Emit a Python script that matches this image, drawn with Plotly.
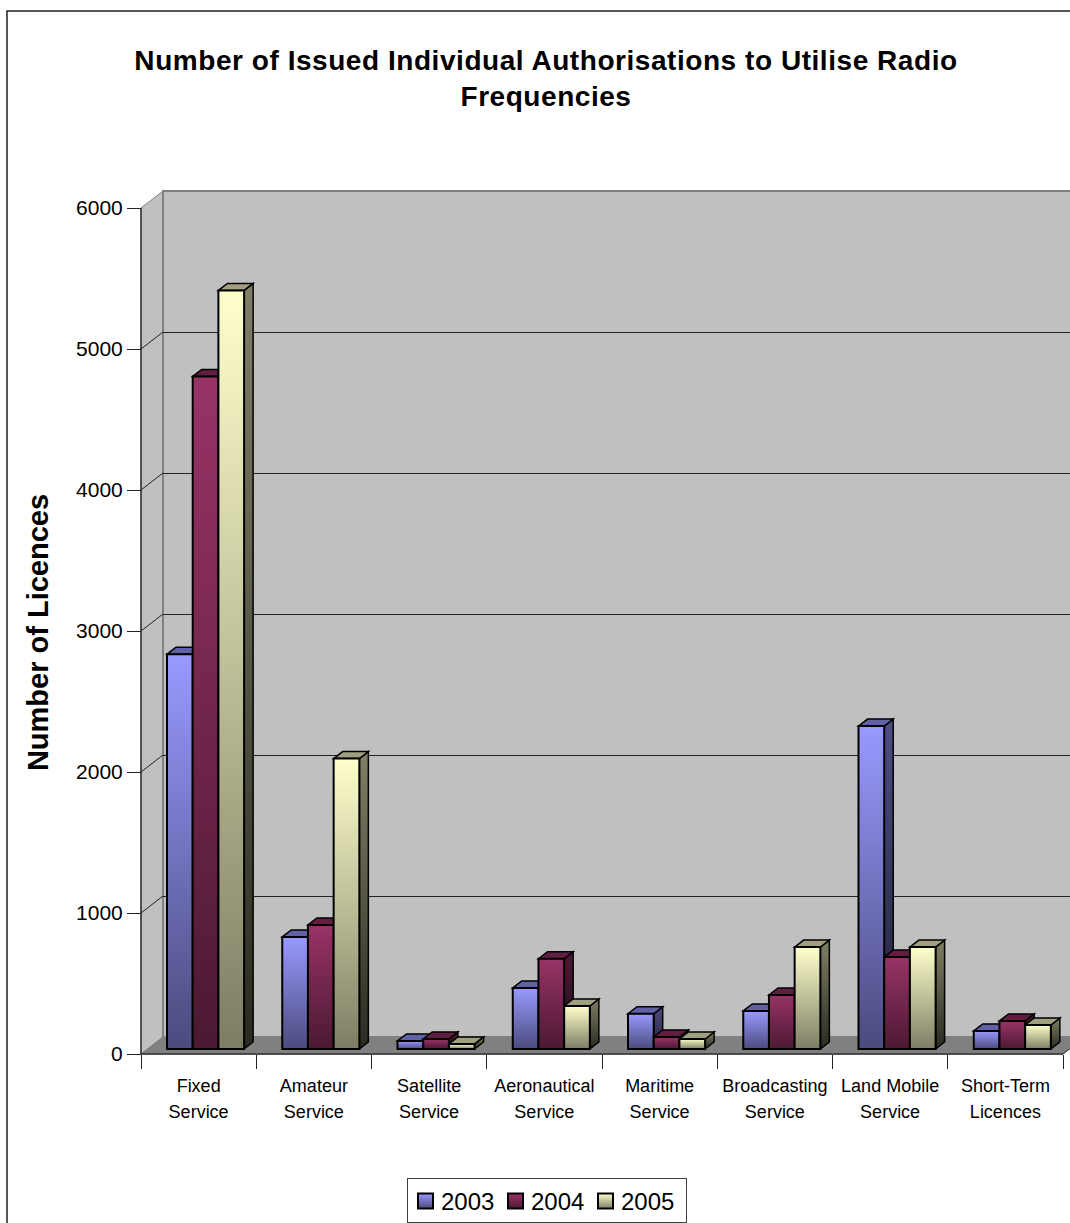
import json
import plotly.graph_objects as go

# Licence counts by service and year
categories = ["Fixed<br>Service", "Amateur<br>Service", "Satellite<br>Service", "Aeronautical<br>Service",
              "Maritime<br>Service", "Broadcasting<br>Service", "Land Mobile<br>Service", "Short-Term<br>Licences"]
years = ["2003", "2004", "2005"]
values_2003 = [2800, 795, 57, 433, 250, 270, 2290, 128]
values_2004 = [4770, 880, 71, 640, 85, 383, 652, 199]
values_2005 = [5380, 2060, 36, 305, 71, 723, 723, 170]
y_ticks = [0, 1000, 2000, 3000, 4000, 5000, 6000]

WIDTH, HEIGHT = 1070, 1223
FONT = "Liberation Sans"

# Pixel frame of the plot box and of the value scale
BOX_L, BOX_R, BOX_T, BOX_B = 139, 1070, 188, 1057
AXIS_X, AXIS_Y = 141, 1054
PX_PER_UNIT = 846 / 6000
PX_PER_CAT = 115.25
WALL_DX, WALL_DY = 22, 17      # depth of the chart floor
BAR_DX, BAR_DY = 9, 7          # depth of one column
BAR_PX = 25.7
BAR_LEAD_PX = 26
BAR_BASE = 5 / PX_PER_UNIT

def cx(px):
    return -0.5 + (px - AXIS_X) / PX_PER_CAT

def cy(px):
    return (AXIS_Y - px) / PX_PER_UNIT

def poly(points):
    return "M " + " L ".join(f"{x:.5f},{y:.3f}" for x, y in points) + " Z"

wall_dx = WALL_DX / PX_PER_CAT
wall_dy = WALL_DY / PX_PER_UNIT
bar_dx = BAR_DX / PX_PER_CAT
bar_dy = BAR_DY / PX_PER_UNIT
bar_w = BAR_PX / PX_PER_CAT
n_cat = len(categories)
x_lo, x_hi = -0.5, n_cat - 0.5
y_top = y_ticks[-1]

shapes = []
crisp_lines = []

def face(points, fill, line="black", width=1.5):
    shapes.append(dict(type="path", xref="x", yref="y", layer="below", path=poly(points),
                       fillcolor=fill, line=dict(color=line, width=width)))

def segment(x0, y0, x1, y1, color, width, crisp=False):
    if crisp:
        crisp_lines.append(len(shapes))
    shapes.append(dict(type="line", xref="x", yref="y", layer="below", x0=x0, y0=y0, x1=x1, y1=y1,
                       line=dict(color=color, width=width)))

# Walls and floor of the box
face([(x_lo, 0), (x_lo + wall_dx, wall_dy), (x_lo + wall_dx, y_top + wall_dy), (x_lo, y_top)], "#c0c0c0", "#808080", 1)
face([(x_lo + wall_dx, wall_dy), (x_hi + wall_dx, wall_dy), (x_hi + wall_dx, y_top + wall_dy), (x_lo + wall_dx, y_top + wall_dy)],
     "#c0c0c0", "#808080", 2)
face([(x_lo, 0), (x_hi, 0), (x_hi + wall_dx, wall_dy), (x_lo + wall_dx, wall_dy)], "#808080", "#808080", 1)

# Gridlines wrap from the side wall onto the back wall
for tick in y_ticks[1:-1]:
    segment(x_lo, tick, x_lo + wall_dx, tick + wall_dy, "#222222", 1)
    segment(x_lo + wall_dx, tick + wall_dy, x_hi + wall_dx, tick + wall_dy, "#222222", 1, crisp=True)

segment(x_lo, 0, x_lo, y_top, "#303030", 1.5)
segment(x_lo, 0, x_hi, 0, "#303030", 1.5)
segment(x_hi, 0, x_hi + wall_dx, wall_dy, "#303030", 1)

series = [values_2003, values_2004, values_2005]
front_top = ["#9999ff", "#993366", "#ffffcc"]
front_bottom = ["#4b4b7e", "#4b1932", "#7d7d64"]
side_top = ["#4d4d80", "#4d1a33", "#808066"]
side_bottom = ["#20203a", "#200a16", "#2a2a20"]
cap_fill = ["#6161a8", "#601f40", "#a0a080"]

# Side and top faces of each column sit behind the front faces
side_map = {}
for k, vals in enumerate(series):
    for i, v in enumerate(vals):
        left = i - 0.5 + (BAR_LEAD_PX + BAR_PX * k) / PX_PER_CAT
        right = left + bar_w
        top = BAR_BASE + v
        side_map[len(shapes)] = k
        face([(right, BAR_BASE), (right + bar_dx, BAR_BASE + bar_dy), (right + bar_dx, top + bar_dy), (right, top)], side_top[k])
        face([(left, top), (left + bar_dx, top + bar_dy), (right + bar_dx, top + bar_dy), (right, top)], cap_fill[k])

# Frame round the chart area, running past the page on the right and at the bottom
shapes.append(dict(type="rect", xref="paper", yref="paper", layer="below",
                   x0=7 / WIDTH, x1=1.05, y0=-0.05, y1=1 - 11 / HEIGHT,
                   fillcolor="rgba(0,0,0,0)", line=dict(color="#222222", width=1.5)))

fig = go.Figure()
for k, (year, vals) in enumerate(zip(years, series)):
    fig.add_trace(go.Bar(
        name=year, x=categories, y=vals, base=BAR_BASE, width=bar_w,
        offset=-0.5 + (BAR_LEAD_PX + BAR_PX * k) / PX_PER_CAT,
        marker=dict(color=front_top[k], line=dict(color="black", width=2)),
    ))

fig.update_layout(
    width=WIDTH, height=HEIGHT, autosize=False,
    margin=dict(l=0, r=0, t=0, b=0, pad=0, autoexpand=False),
    paper_bgcolor="white", plot_bgcolor="rgba(0,0,0,0)",
    barmode="overlay", shapes=shapes,
    font=dict(family=FONT, color="black"),
    title=dict(text="Number of Issued Individual Authorisations to Utilise Radio<br>Frequencies",
               x=546 / WIDTH, xanchor="center", xref="paper",
               y=1 - 70 / HEIGHT, yanchor="top", yref="paper",
               font=dict(family=FONT, size=28, color="black", weight="bold")),
    xaxis=dict(
        type="category", categoryorder="array", categoryarray=categories,
        domain=[BOX_L / WIDTH, BOX_R / WIDTH], anchor="free", position=1 - AXIS_Y / HEIGHT,
        range=[cx(BOX_L), cx(BOX_R)], tickson="boundaries", ticks="outside", ticklen=14,
        tickwidth=1, tickcolor="#222222", showgrid=False, zeroline=False, showline=False,
        tickangle=0, ticklabelstandoff=19, tickfont=dict(family=FONT, size=18, color="black"),
    ),
    yaxis=dict(
        domain=[1 - BOX_B / HEIGHT, 1 - BOX_T / HEIGHT], anchor="free", position=AXIS_X / WIDTH,
        range=[cy(BOX_B), cy(BOX_T)], tickvals=y_ticks, ticks="outside", ticklen=14,
        tickwidth=1, tickcolor="#222222", showgrid=False, zeroline=False, showline=False,
        ticklabelstandoff=0, tickfont=dict(family=FONT, size=21, color="black"),
        title=dict(text="Number of Licences", standoff=30,
                   font=dict(family=FONT, size=29, color="black", weight="bold")),
    ),
    showlegend=True,
    legend=dict(orientation="h", x=407 / WIDTH, xanchor="left", y=1 - 1160 / HEIGHT, yanchor="top",
                bgcolor="white", bordercolor="#404040", borderwidth=1,
                font=dict(family=FONT, size=24, color="black"),
                itemsizing="constant", entrywidth=45, entrywidthmode="pixels",
                traceorder="normal"),
)

# Shaded fills that the bar and shape attributes cannot express: vertical gradients
# on the front faces, side faces and legend keys; also label spacing and legend placement.
post_script = """
var gd = document.getElementById('{plot_id}');
var frontTop = %s, frontBottom = %s, sideTop = %s, sideBottom = %s, sideMap = %s, crispLines = %s;
var NS = 'http://www.w3.org/2000/svg';
var svg = gd.querySelector('.main-svg');
var defs = document.createElementNS(NS, 'defs');
function addGrad(id, c0, c1) {
  var g = document.createElementNS(NS, 'linearGradient');
  g.setAttribute('id', id);
  g.setAttribute('x1', '0'); g.setAttribute('y1', '0');
  g.setAttribute('x2', '0'); g.setAttribute('y2', '1');
  [[0, c0], [1, c1]].forEach(function (s) {
    var st = document.createElementNS(NS, 'stop');
    st.setAttribute('offset', s[0]);
    st.setAttribute('stop-color', s[1]);
    g.appendChild(st);
  });
  defs.appendChild(g);
}
function paint() {
  gd.querySelectorAll('.barlayer .trace').forEach(function (tr, k) {
    tr.querySelectorAll('path').forEach(function (p) { p.style.fill = 'url(#front' + k + ')'; });
  });
  Object.keys(sideMap).forEach(function (idx) {
    gd.querySelectorAll('.shapelayer path[data-index="' + idx + '"]').forEach(function (p) {
      p.style.fill = 'url(#side' + sideMap[idx] + ')';
    });
  });
  crispLines.forEach(function (idx) {
    gd.querySelectorAll('.shapelayer path[data-index="' + idx + '"]').forEach(function (p) {
      p.style.shapeRendering = 'crispEdges';
    });
  });
  gd.querySelectorAll('.legend .traces').forEach(function (tr, k) {
    var p = tr.querySelector('.legendpoints path');
    if (p) {
      p.style.fill = 'url(#front' + k + ')';
      p.style.strokeWidth = '1.6px';
      p.setAttribute('transform', 'translate(17.5,0) scale(1.25)');
    }
    var t = tr.querySelector('.legendtext');
    if (t) { t.setAttribute('x', '33'); }
  });
  var lg = gd.querySelector('.legend');
  var bg = lg.querySelector('rect.bg');
  bg.setAttribute('width', '279');
  bg.setAttribute('height', '44');
  lg.setAttribute('transform', 'translate(407,1178)');
  gd.querySelectorAll('.xtick text').forEach(function (t) {
    t.querySelectorAll('tspan.line').forEach(function (s) {
      if (parseFloat(s.getAttribute('dy')) > 0) { s.setAttribute('dy', '26px'); }
    });
  });
  var ttl = gd.querySelector('.gtitle');
  if (ttl) {
    ttl.style.letterSpacing = '0.55px';
    ttl.querySelectorAll('tspan.line').forEach(function (s) {
      if (parseFloat(s.getAttribute('dy')) > 0) { s.setAttribute('dy', '36px'); }
    });
  }
  var yt = gd.querySelector('.ytitle');
  if (yt) {
    yt.setAttribute('transform', 'translate(13,10) ' + (yt.getAttribute('transform') || ''));
  }
}
for (var k = 0; k < 3; k++) {
  addGrad('front' + k, frontTop[k], frontBottom[k]);
  addGrad('side' + k, sideTop[k], sideBottom[k]);
}
svg.insertBefore(defs, svg.firstChild);
paint();
""" % (json.dumps(front_top), json.dumps(front_bottom), json.dumps(side_top),
       json.dumps(side_bottom), json.dumps(side_map), json.dumps(crisp_lines))

fig.write_html("out.html", post_script=post_script, config=dict(displayModeBar=False))
